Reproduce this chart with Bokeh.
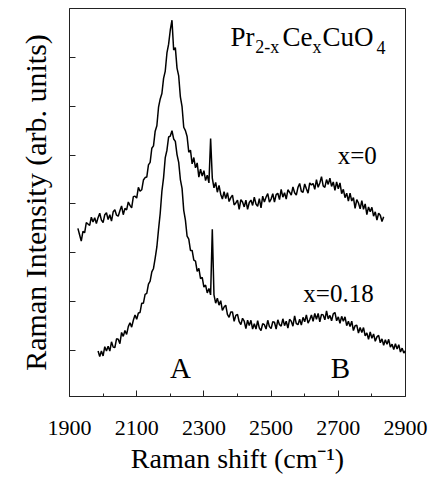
import numpy as np
from bokeh.plotting import figure
from bokeh.models import Label, FixedTicker
from bokeh.embed import file_html
from bokeh.resources import INLINE

# ---- data ----
x_ticks = [1900, 2100, 2300, 2500, 2700, 2900]
x_minor = [2000, 2200, 2400, 2600, 2800]
y_ticks = [1, 2, 3, 4, 5, 6, 7]

# x = 0 spectrum, Raman shift 1925..2835 in steps of 5
upper_start = 1925
upper = [
    3.50, 3.37, 3.24, 3.44, 3.41, 3.62, 3.59, 3.56, 3.73, 3.63,
    3.72, 3.60, 3.72, 3.81, 3.67, 3.62, 3.78, 3.82, 3.68, 3.78,
    3.65, 3.84, 3.88, 3.77, 3.75, 3.86, 3.96, 3.78, 3.91, 3.88,
    4.04, 3.97, 3.92, 4.15, 4.16, 4.12, 4.34, 4.26, 4.29, 4.49,
    4.54, 4.55, 4.80, 4.85, 5.14, 5.19, 5.49, 5.60, 5.98, 6.15,
    6.26, 6.57, 6.72, 7.09, 7.27, 7.56, 7.76, 7.15, 7.20, 6.78,
    6.62, 6.19, 5.99, 5.57, 5.50, 5.38, 5.06, 5.10, 4.82, 4.95,
    4.74, 4.84, 4.55, 4.71, 4.57, 4.68, 4.48, 4.59, 4.43, 5.34,
    4.53, 4.33, 4.44, 4.24, 4.38, 4.20, 4.10, 4.25, 4.11, 4.23,
    4.05, 4.13, 4.18, 3.98, 4.02, 4.08, 3.89, 4.09, 4.04, 3.94,
    4.08, 3.89, 4.03, 4.08, 3.97, 4.14, 4.00, 3.95, 4.11, 3.92,
    4.16, 4.04, 4.14, 4.21, 4.04, 4.10, 4.21, 4.04, 4.19, 4.22,
    4.09, 4.30, 4.14, 4.23, 4.10, 4.29, 4.24, 4.18, 4.35, 4.23,
    4.18, 4.34, 4.42, 4.26, 4.24, 4.41, 4.31, 4.22, 4.43, 4.39,
    4.42, 4.30, 4.50, 4.34, 4.43, 4.56, 4.37, 4.34, 4.50, 4.40,
    4.53, 4.36, 4.45, 4.28, 4.45, 4.31, 4.43, 4.21, 4.30, 4.13,
    4.22, 4.06, 4.22, 4.06, 4.13, 3.91, 4.09, 4.02, 3.90, 4.07,
    3.89, 4.00, 3.78, 3.94, 3.84, 3.93, 3.75, 3.84, 3.67, 3.81,
    3.77, 3.64, 3.74,
]

# x = 0.18 spectrum, Raman shift 1985..2900 in steps of 5
lower_start = 1985
lower = [
    0.99, 0.88, 0.99, 0.89, 1.08, 0.99, 1.09, 0.99, 1.18, 1.07,
    1.06, 1.24, 1.23, 1.14, 1.37, 1.29, 1.41, 1.33, 1.49, 1.57,
    1.48, 1.62, 1.73, 1.64, 1.77, 1.78, 1.97, 1.97, 2.15, 2.17,
    2.36, 2.42, 2.61, 2.68, 2.89, 3.12, 3.48, 3.81, 4.26, 4.54,
    4.95, 5.10, 5.37, 5.39, 5.50, 5.33, 5.28, 5.01, 4.85, 4.50,
    4.32, 3.87, 3.67, 3.34, 3.28, 3.05, 3.05, 2.85, 2.83, 2.62,
    2.68, 2.47, 2.50, 2.30, 2.34, 2.18, 2.27, 2.14, 3.48, 2.14,
    1.97, 2.07, 1.93, 2.02, 1.82, 1.89, 1.93, 1.74, 1.68, 1.79,
    1.79, 1.60, 1.72, 1.74, 1.59, 1.53, 1.66, 1.60, 1.45, 1.62,
    1.51, 1.62, 1.44, 1.55, 1.44, 1.61, 1.46, 1.41, 1.55, 1.53,
    1.44, 1.62, 1.49, 1.45, 1.59, 1.58, 1.44, 1.63, 1.53, 1.50,
    1.65, 1.51, 1.60, 1.46, 1.64, 1.60, 1.50, 1.71, 1.55, 1.53,
    1.64, 1.52, 1.68, 1.59, 1.73, 1.56, 1.63, 1.73, 1.60, 1.76,
    1.64, 1.76, 1.59, 1.74, 1.73, 1.63, 1.81, 1.65, 1.72, 1.61,
    1.75, 1.78, 1.61, 1.69, 1.56, 1.70, 1.60, 1.69, 1.51, 1.60,
    1.49, 1.60, 1.41, 1.51, 1.52, 1.36, 1.47, 1.37, 1.47, 1.30,
    1.36, 1.23, 1.38, 1.25, 1.34, 1.19, 1.28, 1.31, 1.16, 1.24,
    1.11, 1.22, 1.13, 1.23, 1.07, 1.13, 1.02, 1.14, 1.03, 1.12,
    0.97, 1.05, 0.95, 1.00,
]
step = 5

x_upper = upper_start + step * np.arange(len(upper))
x_lower = lower_start + step * np.arange(len(lower))

FONT = "Liberation Serif"

p = figure(width=433, height=481, x_range=(1900, 2900), y_range=(0.06, 8.0),
           output_backend="svg", toolbar_location=None,
           min_border_left=69, min_border_right=28, min_border_top=8,
           min_border_bottom=85)
p.title.visible = False
p.grid.visible = False
p.background_fill_color = "white"
p.border_fill_color = "white"
p.outline_line_color = "#222222"
p.outline_line_width = 1

p.line(x_upper, upper, line_color="black", line_width=1.5)
p.line(x_lower, lower, line_color="black", line_width=1.5)

# x axis
xa = p.xaxis[0]
xa.ticker = FixedTicker(ticks=x_ticks, minor_ticks=x_minor)
xa.major_tick_in = 6
xa.major_tick_out = 0
xa.minor_tick_in = 3
xa.minor_tick_out = 0
xa.axis_line_color = "#222222"
xa.major_tick_line_color = "#222222"
xa.minor_tick_line_color = "#222222"
xa.major_label_text_font = FONT
xa.major_label_text_font_size = "22px"
xa.major_label_text_color = "black"
xa.major_label_standoff = 24
xa.axis_label = "Raman shift (cm\u207b\u00b9)"
xa.axis_label_text_font = FONT
xa.axis_label_text_font_size = "28px"
xa.axis_label_text_font_style = "normal"
xa.axis_label_text_color = "black"
xa.axis_label_standoff = 5

# y axis: ticks only, no numbers
ya = p.yaxis[0]
ya.ticker = FixedTicker(ticks=[], minor_ticks=y_ticks)
ya.major_tick_in = 0
ya.major_tick_out = 0
ya.minor_tick_in = 6
ya.minor_tick_out = 0
ya.axis_line_color = "#222222"
ya.minor_tick_line_color = "#222222"
ya.major_label_standoff = 0
ya.axis_label = "Raman Intensity (arb. units)"
ya.axis_label_text_font = FONT
ya.axis_label_text_font_size = "30px"
ya.axis_label_text_font_style = "normal"
ya.axis_label_text_color = "black"
ya.axis_label_standoff = 18


def lab(x, y, text, size, align="left"):
    p.add_layout(Label(x=x, y=y, text=text, text_font=FONT,
                       text_font_size=size, text_color="black",
                       text_align=align, text_baseline="alphabetic"))


# compound title: Pr(2-x)Ce(x)CuO(4)
lab(2379, 7.41, "Pr", "27px")
lab(2453, 7.21, "2-x", "18px")
lab(2534, 7.41, "Ce", "27px")
lab(2623, 7.21, "x", "18px")
lab(2653, 7.41, "CuO", "27px")
lab(2814, 7.21, "4", "18px")

lab(2698, 5.0, "x=0", "25px")
lab(2596, 2.17, "x=0.18", "25px")
lab(2230, 0.65, "A", "29px", "center")
lab(2706, 0.65, "B", "29px", "center")

open("out.html", "w").write(file_html(p, INLINE))
